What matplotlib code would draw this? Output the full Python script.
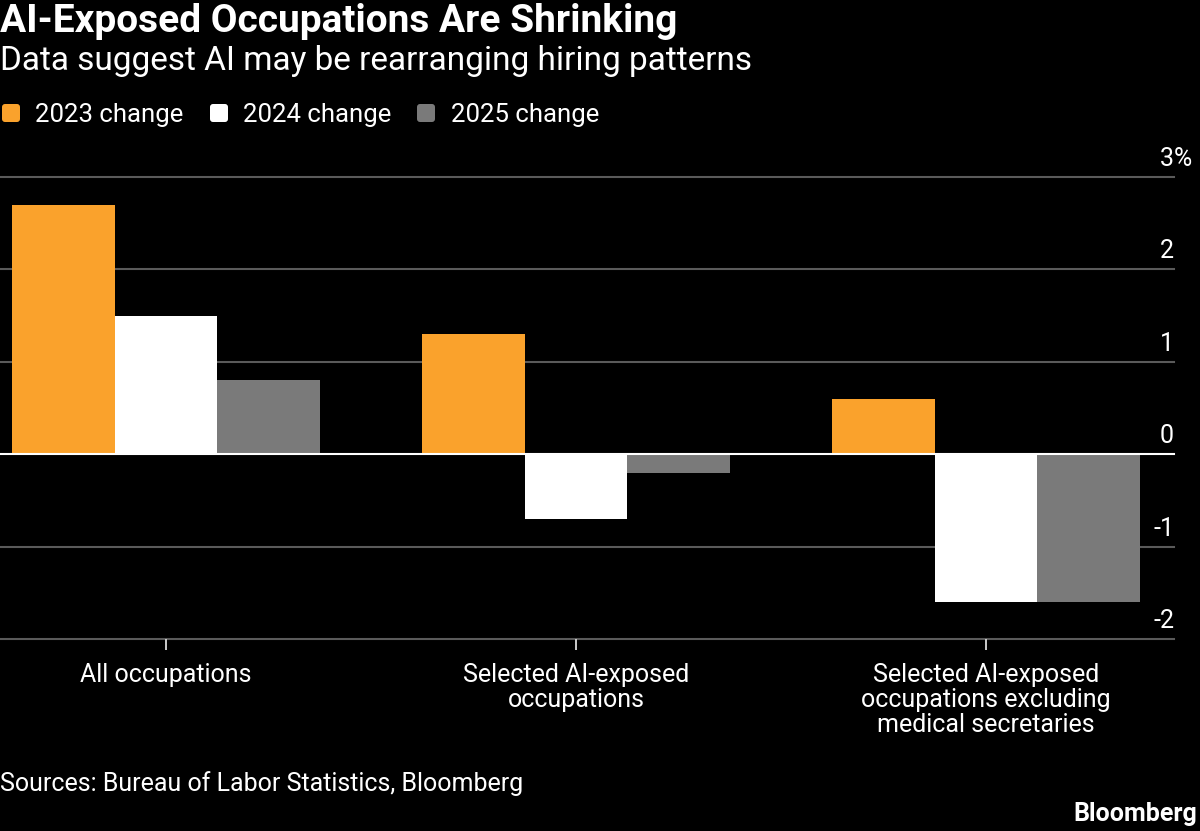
import matplotlib
matplotlib.use("Agg")
import matplotlib.pyplot as plt
import matplotlib.transforms as mtransforms
from matplotlib.patches import FancyBboxPatch
import numpy as np

# data (percent change)
categories = ["All occupations",
              "Selected AI-exposed\noccupations",
              "Selected AI-exposed\noccupations excluding\nmedical secretaries"]
series_names = ["2023 change", "2024 change", "2025 change"]
change_2023 = [2.7, 1.3, 0.6]
change_2024 = [1.5, -0.7, -1.6]
change_2025 = [0.8, -0.2, -1.6]
y_ticks = [-2, -1, 0, 1, 2, 3]
y_tick_labels = ["-2", "-1", "0", "1", "2", "3"]

colors = ["#FAA22C", "#FFFFFF", "#7A7A7A"]
FONT = ["Roboto", "DejaVu Sans"]
plt.rcParams["font.family"] = FONT

W, H = 1200, 831
fig = plt.figure(figsize=(W / 100, H / 100), dpi=100, facecolor="black")


def fy(py):
    # image pixel row -> figure fraction
    return 1 - py / H


ax = fig.add_axes([0, fy(639), 1174 / W, (639 - 177) / H])
ax.set_facecolor("black")

x = np.arange(len(categories))
bw = 0.25
for i, (vals, c) in enumerate(zip([change_2023, change_2024, change_2025], colors)):
    ax.bar(x + (i - 1) * bw, vals, bw, color=c, linewidth=0, zorder=3)

ax.set_xlim(-0.405, 2.458)
ax.set_ylim(-2, 3)

for t in y_ticks:
    if t == 0:
        ax.axhline(t, color="white", lw=1.5, zorder=4, clip_on=False)
    else:
        ax.axhline(t, color="#5a5a5a", lw=1.5, zorder=1, clip_on=False)

# right side value labels sitting above gridlines
lab_off = mtransforms.offset_copy(ax.transData, fig=fig, x=0, y=11, units="dots")
for t, lab in zip(y_ticks, y_tick_labels):
    ax.text(2.458, t, lab, transform=lab_off, ha="right", va="baseline",
            color="white", fontsize=18, clip_on=False)
    if t == 3:
        ax.text(2.458, t, "%", transform=lab_off, ha="left", va="baseline",
                color="white", fontsize=18, clip_on=False)

for s in ax.spines.values():
    s.set_visible(False)
ax.set_yticks([])
ax.set_xticks(x)
ax.set_xticklabels(categories, color="white", fontsize=18, linespacing=1.05)
ax.tick_params(axis="x", length=8, width=1.4, color="#cccccc", pad=9)

# title block
fig.text(0, fy(32), "AI-Exposed Occupations Are Shrinking", color="white",
         fontsize=28, fontweight="bold", va="baseline")
fig.text(0, fy(70), "Data suggest AI may be rearranging hiring patterns",
         color="white", fontsize=24, va="baseline")

# legend
sq_left = [2, 210, 417]
txt_left = [35, 243, 451]
ident = mtransforms.IdentityTransform()
for name, c, sx, tx in zip(series_names, colors, sq_left, txt_left):
    fig.add_artist(FancyBboxPatch((sx, H - 122), 18, 18,
                                  boxstyle="round,pad=0,rounding_size=3",
                                  transform=ident, facecolor=c, edgecolor="none"))
    fig.text(tx / W, fy(122), name, color="white", fontsize=18.5, va="baseline")

fig.text(0, fy(791), "Sources: Bureau of Labor Statistics, Bloomberg",
         color="white", fontsize=18, va="baseline")
fig.text(1197 / W, fy(821), "Bloomberg", color="white", fontsize=18,
         fontweight="bold", ha="right", va="baseline")

fig.savefig("out.png", dpi=100, facecolor="black")
